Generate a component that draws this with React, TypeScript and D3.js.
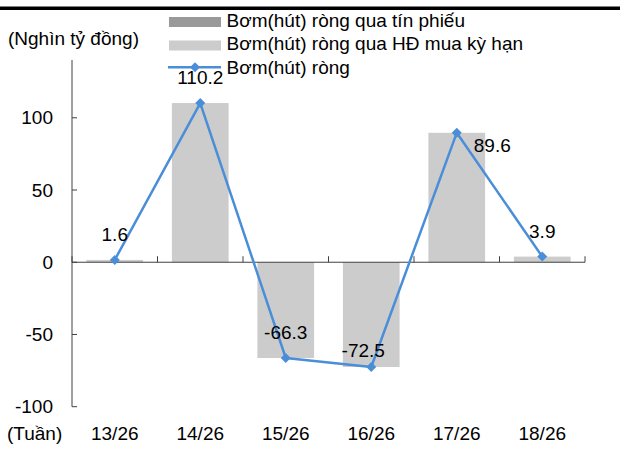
import React from 'react';
import * as d3 from 'd3';

const weeks = ['13/26', '14/26', '15/26', '16/26', '17/26', '18/26'];
const tinPhieu = [0, 0, 0, 0, 0, 0];
const hdMuaKyHan = [1.6, 110.2, -66.3, -72.5, 89.6, 3.9];
const bomRong = [1.6, 110.2, -66.3, -72.5, 89.6, 3.9];
const yTicks = [-100, -50, 0, 50, 100];
const legendNames = [
  'Bơm(hút) ròng qua tín phiếu',
  'Bơm(hút) ròng qua HĐ mua kỳ hạn',
  'Bơm(hút) ròng',
];

const FONT = '"Liberation Sans", Arial, sans-serif';
const FS = 19;
const LINE = '#4a8ed8';
const AXIS = '#404040';

const App = () => {
  const width = 620;
  const height = 457;

  const x = d3.scaleBand<string>()
    .domain(weeks)
    .range([72, 585])
    .paddingInner(0.337)
    .paddingOuter(0.337 / 2);
  const y = d3.scaleLinear().domain([-100, 140]).range([406.7, 60]);

  const cx = (i: number) => (x(weeks[i]) as number) + x.bandwidth() / 2;
  const line = d3.line<number>()
    .x((_, i) => cx(i))
    .y(d => y(d));

  const diamond = d3.symbol(d3.symbolSquare, 50)() as string;

  // label placement per point, as in the source chart
  const labelPos = (i: number) => {
    if (i === 3) return { dx: -8, dy: -10, anchor: 'middle' };
    if (i === 4) return { dx: 17, dy: 19, anchor: 'start' };
    return { dx: 0, dy: -19, anchor: 'middle' };
  };

  const step = x.step();
  const x0 = x.range()[0];
  const boundaries = d3.range(weeks.length + 1).map(i => x0 + i * step);

  const bar = (v: number) => ({
    y: Math.min(y(v), y(0)),
    h: Math.abs(y(v) - y(0)),
  });

  return (
    <div style={{ position: 'absolute', left: 0, top: 0 }}>
      <svg width={width} height={height} style={{ display: 'block', fontFamily: FONT }}>
        <rect x={0} y={0} width={width} height={height} fill="#fff" />
        <rect x={0} y={6.5} width={width} height={3.5} fill="#000" />

        {/* bars */}
        {hdMuaKyHan.map((v, i) => {
          const b = bar(v);
          return (
            <rect key={'h' + i} x={x(weeks[i])} y={b.y} width={x.bandwidth()} height={b.h} fill="#cccccc" />
          );
        })}
        {tinPhieu.map((v, i) => {
          const b = bar(v);
          return b.h > 0 ? (
            <rect key={'t' + i} x={x(weeks[i])} y={b.y} width={x.bandwidth()} height={b.h} fill="#999999" />
          ) : null;
        })}

        {/* y axis */}
        <line x1={72} x2={72} y1={y(140)} y2={y(-100)} stroke={AXIS} />
        {yTicks.map(t => (
          <g key={t}>
            <line x1={72} x2={77} y1={y(t)} y2={y(t)} stroke={AXIS} />
            <text x={53} y={y(t) + 6.5} textAnchor="end" fontSize={FS} fill="#000">{t}</text>
          </g>
        ))}

        {/* x axis */}
        <line x1={x0} x2={x.range()[1]} y1={y(0)} y2={y(0)} stroke={AXIS} />
        {boundaries.map((b, i) => (
          <line key={i} x1={b} x2={b} y1={y(0)} y2={y(0) - 6} stroke={AXIS} />
        ))}
        {weeks.map((w, i) => (
          <text key={w} x={cx(i)} y={440} textAnchor="middle" fontSize={FS} fill="#000">{w}</text>
        ))}

        {/* line series */}
        <path d={line(bomRong) as string} fill="none" stroke={LINE} strokeWidth={2.5} strokeLinejoin="round" />
        {bomRong.map((v, i) => (
          <path key={'m' + i} d={diamond} transform={`translate(${cx(i)},${y(v)}) rotate(45)`} fill={LINE} />
        ))}
        {bomRong.map((v, i) => {
          const p = labelPos(i);
          return (
            <text key={'l' + i} x={cx(i) + p.dx} y={y(v) + p.dy} textAnchor={p.anchor} fontSize={FS} fill="#000">
              {v.toFixed(1)}
            </text>
          );
        })}

        {/* axis titles */}
        <text x={8} y={45} fontSize={FS} fill="#000">(Nghìn tỷ đồng)</text>
        <text x={7} y={440} fontSize={FS} fill="#000">(Tuần)</text>

        {/* legend */}
        <rect x={169} y={17} width={52} height={10} fill="#999999" />
        <rect x={169} y={40.5} width={52} height={10} fill="#cccccc" />
        <line x1={168} x2={221} y1={67.3} y2={67.3} stroke={LINE} strokeWidth={2.5} />
        <path d={diamond} transform="translate(195,67.3) rotate(45)" fill={LINE} />
        {legendNames.map((n, i) => (
          <text key={n} x={226.5} y={26.7 + i * 23.5} fontSize={FS} fill="#000">{n}</text>
        ))}
      </svg>
    </div>
  );
};

export default App;
